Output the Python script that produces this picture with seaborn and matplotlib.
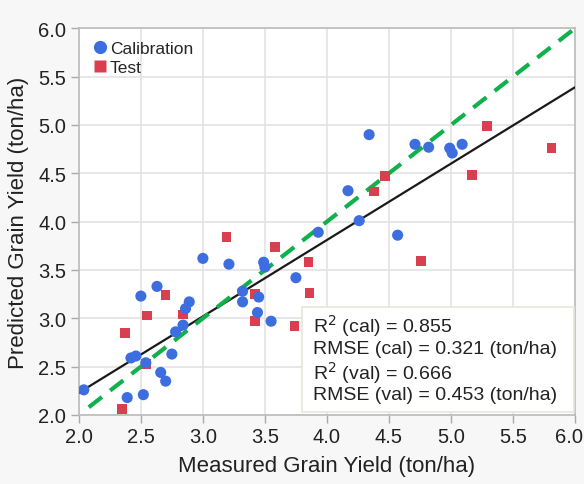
import numpy as np
import pandas as pd
import seaborn as sns
import matplotlib.pyplot as plt
from matplotlib.patches import Rectangle
from matplotlib.lines import Line2D
import matplotlib.transforms as mtransforms

# calibration points (measured, predicted)
cal_x = [2.04, 2.39, 2.52, 2.42, 2.46, 2.54, 2.50, 2.63, 2.66, 2.70, 2.75, 2.78,
         2.84, 2.86, 2.89, 3.00, 3.21, 3.32, 3.32, 3.45, 3.44, 3.49, 3.50, 3.55,
         3.75, 3.93, 4.26, 4.57, 4.34, 4.17, 4.71, 4.82, 4.99, 5.01, 5.09]
cal_y = [2.26, 2.18, 2.21, 2.59, 2.61, 2.54, 3.23, 3.33, 2.44, 2.35, 2.63, 2.86,
         2.93, 3.10, 3.17, 3.62, 3.56, 3.28, 3.17, 3.22, 3.06, 3.58, 3.53, 2.97,
         3.42, 3.89, 4.01, 3.86, 4.90, 4.32, 4.80, 4.77, 4.76, 4.71, 4.80]

# test points
test_x = [2.35, 2.37, 2.55, 2.54, 2.70, 2.84, 3.19, 3.42, 3.42, 3.58, 3.74, 3.85,
          3.86, 4.76, 4.38, 4.47, 5.17, 5.29, 5.81]
test_y = [2.06, 2.85, 3.03, 2.53, 3.24, 3.04, 3.84, 3.25, 2.97, 3.74, 2.92, 3.58,
          3.26, 3.59, 4.31, 4.47, 4.48, 4.99, 4.76]

fit_slope = 0.79
fit_intercept = 0.65
one_to_one = [2.08, 6.0]

stats_text = ["R$^2$ (cal) = 0.855", "RMSE (cal) = 0.321 (ton/ha)",
              "R$^2$ (val) = 0.666", "RMSE (val) = 0.453 (ton/ha)"]

cal = pd.DataFrame({"measured": cal_x, "predicted": cal_y})
test = pd.DataFrame({"measured": test_x, "predicted": test_y})

blue = "#3d6ee0"
red = "#d8404f"

sns.set_style("white")
plt.rcParams["font.family"] = ["Liberation Sans", "DejaVu Sans"]

fig = plt.figure(figsize=(5.84, 4.85), dpi=100, facecolor="#f7f7f7")
ax = fig.add_axes([0.135, 0.1423, 0.8496, 0.7973])
ax.set_facecolor("white")

ax.grid(True, color="#e3e3e3", lw=1.2, zorder=0)
ax.set_axisbelow(True)

fx = np.array([2.0, 6.0])
ax.plot(fx, fit_slope * fx + fit_intercept, color="#1a1a1a", lw=1.6, zorder=3)
ax.plot(one_to_one, one_to_one, color="#10b04a", lw=3, ls=(0, (4, 2.5)), zorder=3)

sns.scatterplot(data=test, x="measured", y="predicted", marker="s", s=48,
                color=red, edgecolor="none", ax=ax, zorder=4, legend=False)
sns.scatterplot(data=cal, x="measured", y="predicted", marker="o", s=64,
                color=blue, edgecolor="none", ax=ax, zorder=4, legend=False)

handles = [Line2D([], [], ls="none", marker="o", ms=9.5, color=blue, mec="none"),
           Line2D([], [], ls="none", marker="s", ms=8, color=red, mec="none")]
ax.legend(handles, ["Calibration", "Test"], loc="upper left", frameon=False,
          fontsize=12.5, handletextpad=0.1, borderaxespad=0.3, labelspacing=0.25,
          handlelength=1.0, bbox_to_anchor=(0.0, 1.0))

ax.set_xlim(2.0, 6.0)
ax.set_ylim(2.0, 6.0)
ticks = [2.0, 2.5, 3.0, 3.5, 4.0, 4.5, 5.0, 5.5, 6.0]
ax.set_xticks(ticks)
ax.set_yticks(ticks)
ax.set_xticklabels([f"{t:.1f}" for t in ticks])
ax.set_yticklabels([f"{t:.1f}" for t in ticks])
ax.tick_params(axis="both", direction="out", length=6, width=1, color="#aaaaaa",
               labelsize=14.5, labelcolor="#222222", pad=3)
ax.tick_params(bottom=True, left=True)
last = ax.get_xticklabels()[-1]
last.set_transform(last.get_transform() +
                   mtransforms.ScaledTranslation(-6 / 100, 0, fig.dpi_scale_trans))
for sp in ax.spines.values():
    sp.set_color("#bbbbbb")
    sp.set_linewidth(1.2)

ax.set_xlabel("Measured Grain Yield (ton/ha)", fontsize=16, color="#222222", labelpad=6)
ax.set_ylabel("Predicted Grain Yield (ton/ha)", fontsize=16, color="#222222", labelpad=7)

ax.add_patch(Rectangle((0.449, 0.008), 0.548, 0.271, transform=ax.transAxes,
                       facecolor="white", edgecolor="#e6e6dc", lw=1.2, zorder=5))
ax.text(0.471, 0.03, "\n".join(stats_text), transform=ax.transAxes,
        fontsize=14, color="#222222", va="bottom", ha="left",
        linespacing=1.12, zorder=6)

fig.savefig("out.png", dpi=100, facecolor=fig.get_facecolor())
